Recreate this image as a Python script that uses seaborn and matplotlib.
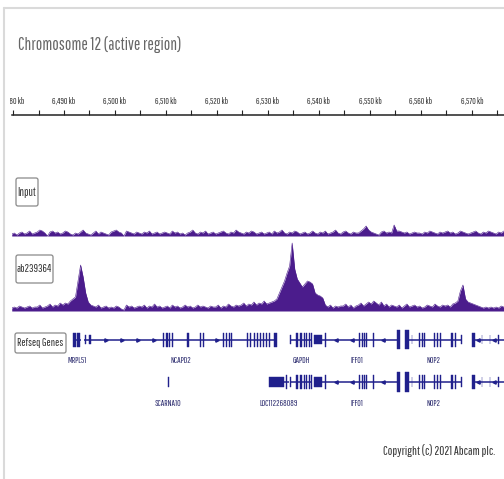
import numpy as np
import pandas as pd
import matplotlib
matplotlib.use('Agg')
import matplotlib.pyplot as plt
from matplotlib.patches import FancyBboxPatch
from matplotlib.transforms import Bbox, TransformedBbox
import seaborn as sns

# --- dane ---
region_start = 6479.8
region_end = 6576.3
ruler_major = [6480, 6490, 6500, 6510, 6520, 6530, 6540, 6550, 6560, 6570]
ruler_minor = [6485, 6495, 6505, 6515, 6525, 6535, 6545, 6555, 6565, 6575]

# sygnal w binach po 0.5 kb
bin_start = 6479.5
bin_size = 0.5
input_signal = [
    2, 3, 1, 3, 4, 2, 3, 5, 2, 3,
    4, 6, 5, 3, 0, 4, 5, 3, 4, 2,
    3, 5, 4, 2, 1, 3, 2, 4, 6, 3,
    2, 1, 3, 5, 2, 4, 3, 2, 1, 4,
    5, 6, 4, 3, 0, 5, 4, 3, 2, 4,
    3, 2, 4, 3, 5, 2, 3, 4, 2, 3,
    4, 3, 2, 5, 3, 4, 2, 3, 1, 3,
    4, 6, 3, 2, 4, 3, 5, 2, 3, 4,
    2, 3, 4, 5, 3, 2, 4, 3, 6, 4,
    3, 2, 4, 3, 5, 4, 2, 3, 4, 2,
    3, 4, 2, 5, 3, 4, 6, 3, 2, 4,
    3, 5, 4, 2, 3, 4, 2, 3, 5, 3,
    2, 4, 3, 5, 2, 3, 4, 6, 3, 2,
    4, 5, 3, 2, 4, 3, 3, 5, 7, 10,
    6, 4, 3, 2, 1, 4, 5, 3, 4, 3,
    11, 5, 5, 4, 3, 4, 2, 3, 4, 3,
    3, 2, 4, 3, 5, 4, 3, 2, 4, 3,
    4, 5, 3, 4, 2, 3, 5, 4, 3, 2,
    3, 4, 5, 3, 2, 4, 3, 5, 4, 3,
    2, 4, 3, 5,
]
ab_signal = [
    3, 4, 3, 5, 4, 3, 4, 5, 3, 4,
    4, 6, 3, 4, 5, 7, 4, 6, 5, 8,
    6, 8, 7, 10, 12, 14, 30, 46, 34, 18,
    9, 6, 5, 4, 6, 3, 4, 5, 3, 4,
    3, 5, 4, 2, 1, 6, 4, 5, 3, 4,
    5, 4, 6, 3, 5, 4, 7, 4, 5, 3,
    4, 5, 3, 6, 4, 5, 3, 4, 6, 4,
    5, 3, 4, 6, 4, 5, 4, 3, 5, 4,
    4, 6, 3, 5, 4, 7, 5, 4, 6, 5,
    6, 8, 5, 7, 6, 9, 6, 8, 7, 10,
    7, 8, 9, 10, 12, 18, 24, 30, 38, 45,
    68, 42, 32, 28, 24, 27, 30, 29, 27, 18,
    16, 15, 13, 6, 4, 6, 3, 5, 4, 5,
    5, 7, 4, 6, 3, 5, 6, 8, 5, 7,
    9, 7, 10, 8, 6, 9, 5, 7, 4, 6,
    5, 4, 6, 3, 5, 7, 4, 5, 6, 4,
    5, 3, 4, 6, 5, 4, 7, 5, 4, 6,
    5, 6, 4, 7, 8, 10, 20, 26, 12, 9,
    8, 7, 6, 5, 4, 3, 4, 3, 4, 3,
    4, 3, 5, 4,
]

# geny (kb); rodzaj eksonu: u = UTR, c = kodujacy, t = duzy
gene_start = {'MRPL51': 6491.8, 'NCAPD2': 6494.0, 'GAPDH': 6534.3, 'IFFO1': 6539.0,
              'NOP2': 6556.8, 'CHD4': 6570.0, 'SCARNA10': 6510.3, 'LOC112268089': 6530.2}
gene_end = {'MRPL51': 6493.3, 'NCAPD2': 6531.8, 'GAPDH': 6538.7, 'IFFO1': 6555.9,
            'NOP2': 6568.1, 'CHD4': 6577.0, 'SCARNA10': 6510.6, 'LOC112268089': 6534.2}
gene_strand = {'MRPL51': '-', 'NCAPD2': '+', 'GAPDH': '+', 'IFFO1': '-',
               'NOP2': '-', 'CHD4': '-', 'SCARNA10': '-', 'LOC112268089': '+'}
gene_exons = {
    'MRPL51': [(6491.8, 6492.3, 'c'), (6492.6, 6493.1, 'c')],
    'NCAPD2': [(6494.2, 6494.4, 'u'), (6495.0, 6495.2, 'u'), (6509.5, 6509.7, 'c'),
               (6510.1, 6510.3, 'c'), (6510.5, 6510.7, 'c'), (6511.1, 6511.3, 'c'),
               (6514.2, 6514.6, 'c'), (6516.6, 6516.8, 'c'), (6517.3, 6517.5, 'c'),
               (6521.1, 6521.3, 'c'), (6521.7, 6521.9, 'c'), (6522.3, 6522.5, 'c'),
               (6522.8, 6523.0, 'c'), (6525.8, 6526.0, 'c'), (6526.4, 6526.6, 'c'),
               (6527.2, 6527.4, 'c'), (6527.8, 6528.0, 'c'), (6528.4, 6528.6, 'c'),
               (6529.1, 6529.3, 'c'), (6529.7, 6529.9, 'c'), (6530.3, 6530.5, 'c'),
               (6531.1, 6531.7, 'c')],
    'GAPDH': [(6534.4, 6534.6, 'u'), (6535.6, 6535.8, 'c'), (6536.3, 6536.7, 'c'),
              (6537.0, 6537.2, 'c'), (6537.4, 6537.6, 'c'), (6538.0, 6538.2, 'c'),
              (6538.4, 6538.7, 'c')],
    'IFFO1': [(6539.0, 6540.6, 'u'), (6541.1, 6541.3, 'c'), (6547.9, 6548.1, 'c'),
              (6548.5, 6548.7, 'c'), (6548.9, 6549.1, 'c'), (6549.3, 6549.5, 'c'),
              (6550.7, 6550.9, 'c'), (6555.3, 6555.9, 't')],
    'NOP2': [(6556.8, 6557.6, 't'), (6558.2, 6558.35, 'u'), (6559.7, 6559.9, 'c'),
             (6560.2, 6560.4, 'c'), (6560.7, 6560.9, 'c'), (6562.6, 6562.8, 'c'),
             (6563.2, 6563.4, 'c'), (6563.8, 6564.0, 'c'), (6566.0, 6566.2, 'c'),
             (6566.7, 6566.9, 'c'), (6567.8, 6568.1, 'u')],
    'CHD4': [(6570.0, 6570.6, 'c'), (6571.9, 6572.05, 'u'), (6573.5, 6573.65, 'u'),
             (6575.2, 6575.35, 'u')],
    'SCARNA10': [(6510.3, 6510.6, 'u')],
    'LOC112268089': [(6530.2, 6533.1, 'u'), (6533.5, 6533.7, 'c')],
}
transcripts = ['MRPL51', 'NCAPD2', 'GAPDH', 'IFFO1', 'NOP2', 'CHD4',
               'SCARNA10', 'LOC112268089', 'GAPDH', 'IFFO1', 'NOP2', 'CHD4']
transcript_row = [0, 0, 0, 0, 0, 0, 1, 1, 1, 1, 1, 1]
transcript_label = [1, 1, 1, 1, 1, 0, 1, 1, 0, 1, 1, 0]

# --- styl ---
sns.set_theme(style='white')
plt.rcParams['font.family'] = ['Pathway Gothic One', 'DejaVu Sans']
purple = '#4b1c8c'
gene_color = '#20208c'

W, H = 504, 479
fig = plt.figure(figsize=(W / 100, H / 100), dpi=100)


def px_axes(x0, y0, x1, y1, **kw):
    return fig.add_axes([x0 / W, 1 - y1 / H, (x1 - x0) / W, (y1 - y0) / H], **kw)


# linijka z kb
ax_r = px_axes(12, 108, 504, 115)
ax_r.patch.set_visible(False)
ax_r.set_xlim(region_start, region_end)
ax_r.set_ylim(0, 1)
for s in ['top', 'left', 'right']:
    ax_r.spines[s].set_visible(False)
ax_r.spines['bottom'].set_color('#222222')
ax_r.spines['bottom'].set_linewidth(1.1)
ax_r.set_yticks([])
ax_r.set_xticks(ruler_major)
ax_r.set_xticklabels([f'{v:,} kb' for v in ruler_major])
ax_r.set_xticks(ruler_minor, minor=True)
ax_r.tick_params(axis='x', which='both', direction='in', bottom=True, top=False,
                 labelbottom=False, labeltop=True, length=3.8, width=0.8,
                 color='#222222', pad=1.5, labelsize=6.4, labelcolor='#333333')
clip = TransformedBbox(Bbox([[10 / W, 0], [1, 1]]), fig.transFigure)
for lbl in ax_r.get_xticklabels():
    lbl.set_clip_box(clip)
    lbl.set_clip_on(True)

# sciezki sygnalu
pos = bin_start + bin_size * (np.arange(len(ab_signal)) + 0.5)
df = pd.DataFrame({'pos': pos, 'Input': input_signal, 'ab239364': ab_signal})
for name, y0, y1 in [('Input', 212, 236), ('ab239364', 240, 311)]:
    ax = px_axes(12, y0, 504, y1)
    ax.fill_between(df['pos'], df[name], color=purple, lw=0)
    sns.lineplot(data=df, x='pos', y=name, ax=ax, color=purple, lw=0.4)
    ax.axhline(0, color=purple, lw=0.8)
    ax.set_xlim(region_start, region_end)
    ax.set_ylim(0, y1 - y0)
    ax.axis('off')

# geny
ax_g = px_axes(12, 328, 504, 412)
ax_g.set_xlim(region_start, region_end)
ax_g.set_ylim(412, 328)
ax_g.axis('off')
row_y = [340, 382]
half = {'u': 4.5, 'c': 7, 't': 9.5}
for gene, row, lab in zip(transcripts, transcript_row, transcript_label):
    y = row_y[row]
    s, e = gene_start[gene], gene_end[gene]
    exons = gene_exons[gene]
    ax_g.plot([s, e], [y, y], color=gene_color, lw=1.1, solid_capstyle='butt')
    for es, ee, kind in exons:
        h = half[kind]
        ax_g.broken_barh([(es, ee - es)], (y - h, 2 * h), facecolor=gene_color,
                         edgecolor=gene_color, lw=0.3)
    marks = [p for p in np.arange(s + 1.2, e, 3.1)
             if all(p < a - 0.5 or p > b + 0.5 for a, b, _ in exons)]
    ax_g.plot(marks, [y] * len(marks), ls='none',
              marker='>' if gene_strand[gene] == '+' else '<',
              ms=2.4, color=gene_color)
    if lab:
        ax_g.text((s + e) / 2, y + 21, gene, ha='center', va='center',
                  fontsize=6.4, color='#2e2e70')

# warstwa z tekstami i ramka
ax_o = fig.add_axes([0, 0, 1, 1], zorder=10)
ax_o.patch.set_visible(False)
ax_o.set_xlim(0, W)
ax_o.set_ylim(H, 0)
ax_o.axis('off')
ax_o.plot([3.5, 3.5], [8, H], color='#dadada', lw=1.5)
ax_o.plot([3.5, W], [8, 8], color='#dadada', lw=1.5)

ax_o.text(18, 45, 'Chromosome 12 (active region)', ha='left', va='center',
          fontsize=12.3, color='#666666', fontweight='bold')
ax_o.text(495, 451, 'Copyright (c) 2021 Abcam plc.', ha='right', va='center',
          fontsize=9, color='#333333')

boxes = [('Input', 16, 178, 38, 206, 8.3), ('ab239364', 16, 255, 53, 283, 8),
         ('Refseq Genes', 15, 333, 66, 353, 8)]
for text, x0, y0, x1, y1, fs in boxes:
    ax_o.add_patch(FancyBboxPatch((x0, y0), x1 - x0, y1 - y0,
                                  boxstyle='round,pad=0,rounding_size=2',
                                  fc='white', ec='#8a8a8a', lw=0.9))
    ax_o.text((x0 + x1) / 2, (y0 + y1) / 2, text, ha='center', va='center',
              fontsize=fs, color='#333333')

fig.savefig('out.png', dpi=100)
